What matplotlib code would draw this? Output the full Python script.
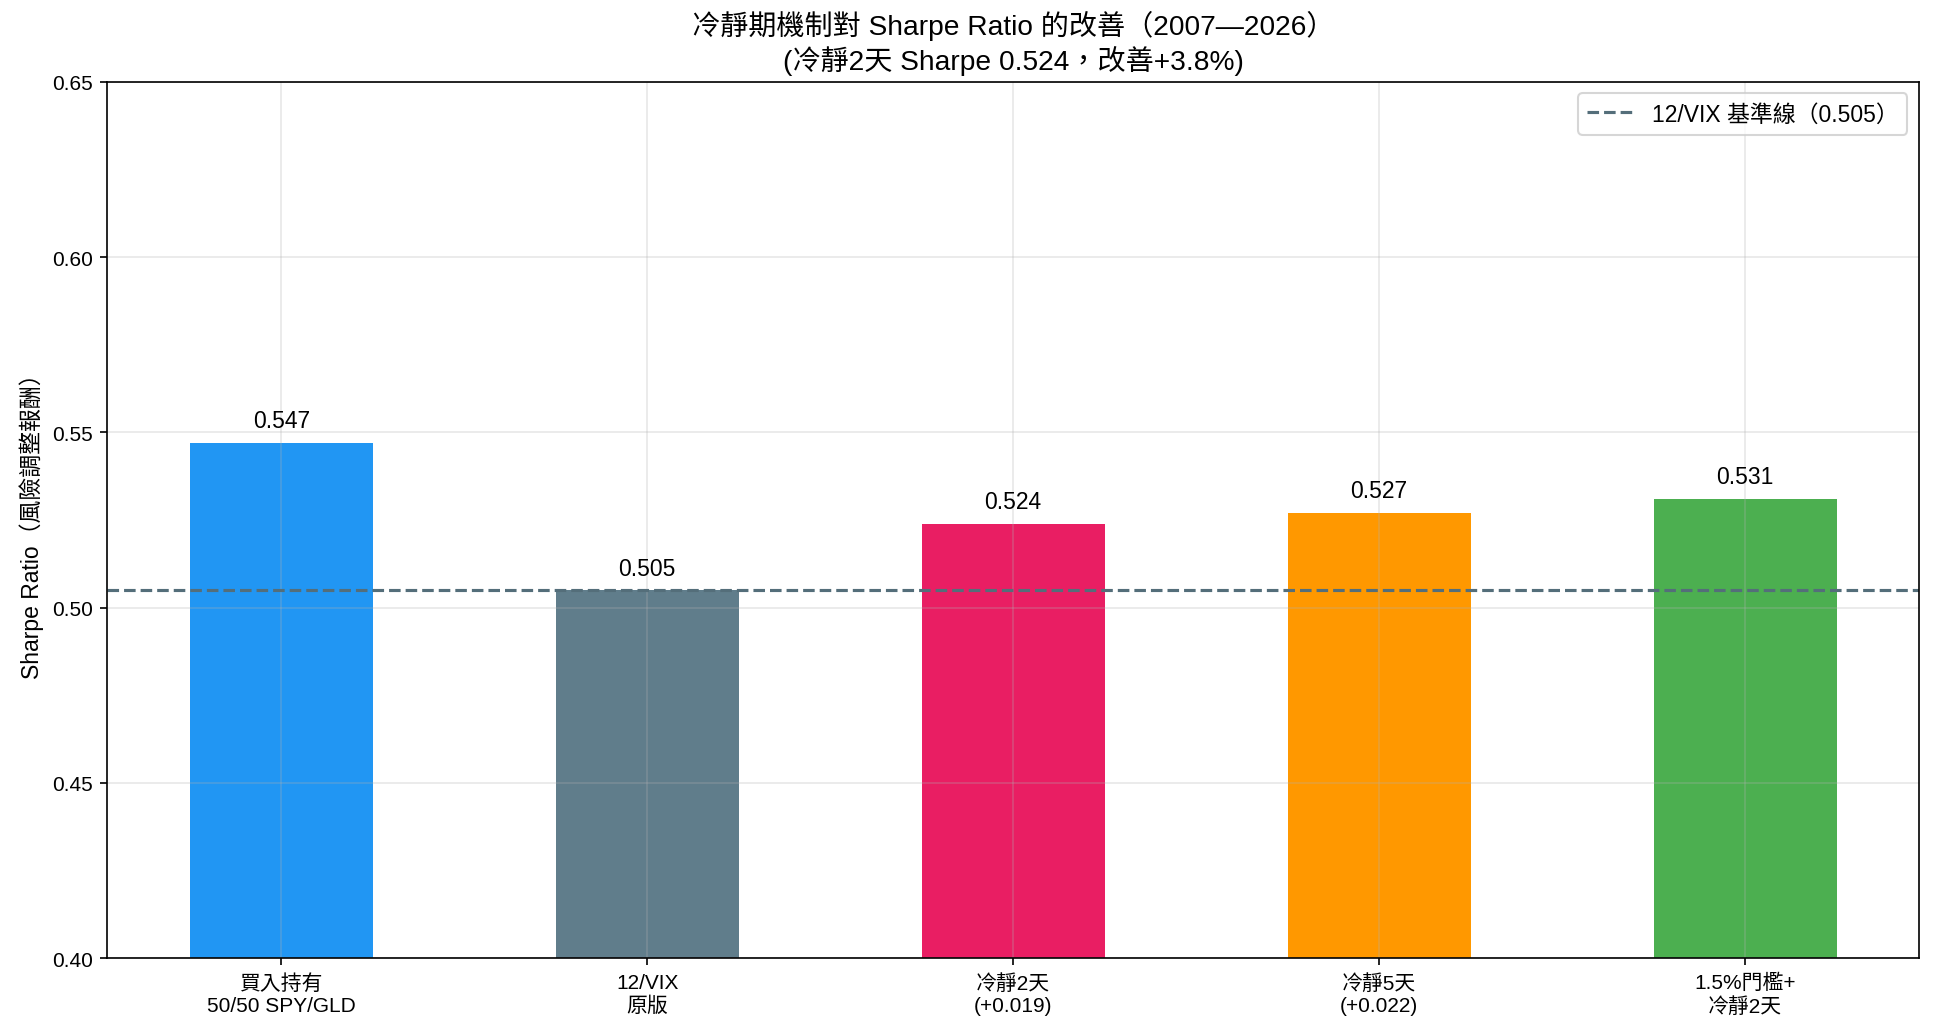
import matplotlib
matplotlib.use('Agg')
import matplotlib.pyplot as plt

plt.rcParams['font.family'] = ['Liberation Sans', 'Noto Sans CJK TC', 'DejaVu Sans']

labels = ['買入持有\n50/50 SPY/GLD', '12/VIX\n原版', '冷靜2天\n(+0.019)', '冷靜5天\n(+0.022)', '1.5%門檻+\n冷靜2天']
sharpe = [0.547, 0.505, 0.524, 0.527, 0.531]
colors = ['#2196F3', '#607D8B', '#E91E63', '#FF9800', '#4CAF50']
baseline = 0.505

fig, ax = plt.subplots(figsize=(12.9, 6.873), dpi=150)
x = range(len(labels))
ax.bar(x, sharpe, width=0.5, color=colors)
ax.axhline(baseline, color='#546E7A', linestyle='--', linewidth=1.5, label='12/VIX 基準線（0.505）')
for i, v in enumerate(sharpe):
    ax.text(i, v + 0.003, f'{v:.3f}', ha='center', va='bottom', fontsize=11)

ax.set_xticks(list(x))
ax.set_xticklabels(labels, fontsize=10)
ax.set_ylim(0.40, 0.65)
ax.tick_params(axis='y', labelsize=10)
ax.set_ylabel('Sharpe Ratio（風險調整報酬）', fontsize=11)
ax.set_title('冷靜期機制對 Sharpe Ratio 的改善（2007—2026）\n(冷靜2天 Sharpe 0.524，改善+3.8%)', fontsize=13.5)
ax.legend(loc='upper right', fontsize=11)
ax.grid(alpha=0.3)
plt.subplots_adjust(left=0.0555, right=0.9917, top=0.9198, bottom=0.0695)
plt.savefig('out.png')
